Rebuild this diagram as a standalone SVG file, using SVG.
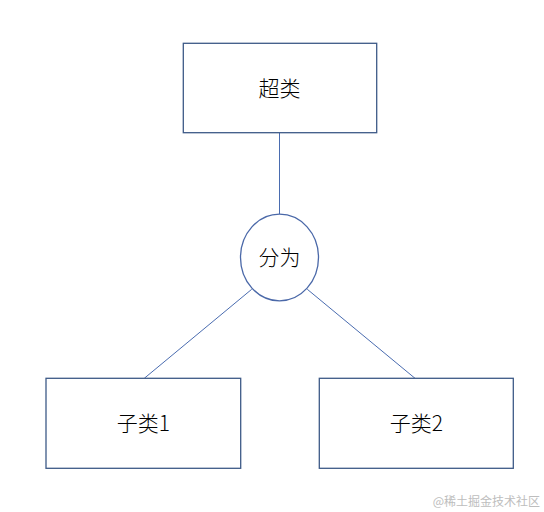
<svg xmlns="http://www.w3.org/2000/svg" width="544" height="512" viewBox="0 0 544 512">
<style>
.box{fill:#ffffff;stroke:#3d5a87;stroke-width:1.3}
.circ{fill:#ffffff;stroke:#4a68a8;stroke-width:1.3}
.conn{stroke:#4a6cb0;stroke-width:1;fill:none}
.lbl{font-family:"Noto Sans CJK SC",sans-serif;font-weight:300;font-size:21px;fill:#000000;text-anchor:middle}
.wm{font-family:"Noto Sans CJK SC",sans-serif;font-size:12px;fill:#bdbdbd;text-anchor:end}
</style>
<rect width="544" height="512" fill="#ffffff"/>
<g id="connectors">
<line class="conn" x1="279.5" y1="133" x2="279.5" y2="214"/>
<line class="conn" x1="251.7" y1="289.3" x2="144.3" y2="378.3"/>
<line class="conn" x1="307.3" y1="289.3" x2="415" y2="378.3"/>
</g>
<g id="superclass">
<rect class="box" x="183.3" y="43.3" width="193.4" height="89.4"/>
<text class="lbl" x="279.5" y="96">超类</text>
</g>
<g id="divide">
<ellipse class="circ" cx="279.5" cy="257.5" rx="39" ry="43.3"/>
<text class="lbl" x="279.5" y="265">分为</text>
</g>
<g id="subclass1">
<rect class="box" x="46" y="378.3" width="194.7" height="90"/>
<text class="lbl" x="143.3" y="431">子类1</text>
</g>
<g id="subclass2">
<rect class="box" x="319.3" y="378.3" width="194" height="90"/>
<text class="lbl" x="416.3" y="431">子类2</text>
</g>
<text class="wm" x="540" y="506">@稀土掘金技术社区</text>
</svg>
